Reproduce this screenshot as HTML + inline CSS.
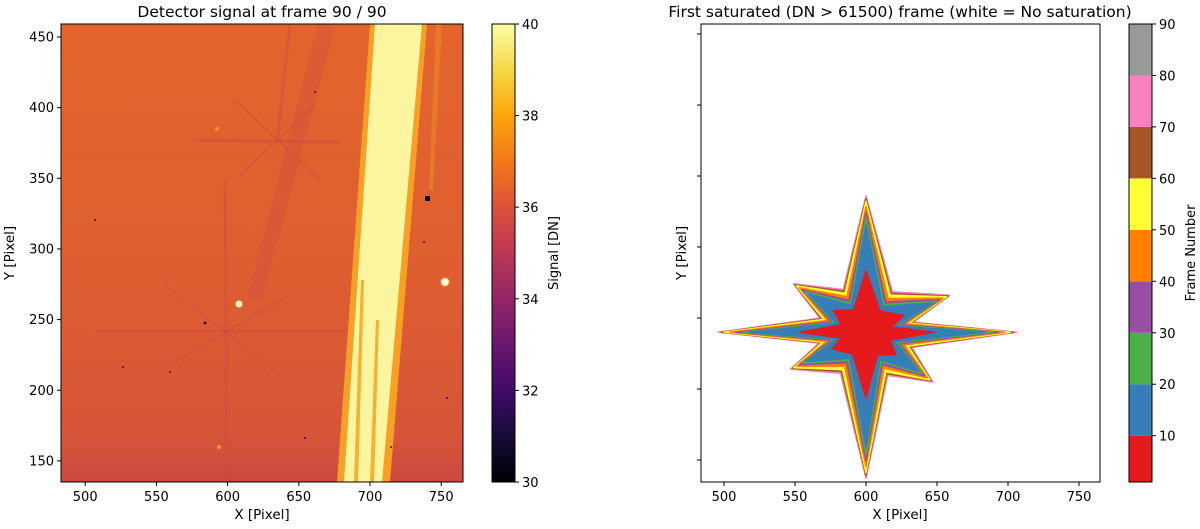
<!DOCTYPE html>
<html><head><meta charset="utf-8"><style>
html,body{margin:0;padding:0;background:#fff;}
svg{display:block;font-family:"DejaVu Sans","Liberation Sans",sans-serif;}
</style></head><body>
<svg id="fig" width="1200" height="529" viewBox="0 0 1200 529">
<defs>
<linearGradient id="inferno" x1="0" y1="1" x2="0" y2="0">
<stop offset="0" stop-color="#000004"/><stop offset="0.1" stop-color="#160b39"/><stop offset="0.2" stop-color="#420a68"/><stop offset="0.3" stop-color="#6a176e"/><stop offset="0.4" stop-color="#932667"/><stop offset="0.5" stop-color="#bc3754"/><stop offset="0.6" stop-color="#dd513a"/><stop offset="0.7" stop-color="#f37819"/><stop offset="0.8" stop-color="#fca50a"/><stop offset="0.9" stop-color="#f6d746"/><stop offset="1" stop-color="#fcffa4"/>
</linearGradient>
<linearGradient id="bgfade" x1="0" y1="0" x2="0" y2="1">
<stop offset="0" stop-color="#e3652c"/><stop offset="0.55" stop-color="#de5e31"/><stop offset="0.9" stop-color="#d75538"/><stop offset="1" stop-color="#c9493f"/>
</linearGradient>
<clipPath id="clipL"><rect x="61" y="24" width="402" height="458"/></clipPath>
<clipPath id="clipR"><rect x="701" y="24" width="399" height="458"/></clipPath>
</defs>

<text x="262" y="17" text-anchor="middle" font-size="15.5">Detector signal at frame 90 / 90</text>
<g clip-path="url(#clipL)">
<rect x="61" y="24" width="402" height="458" fill="url(#bgfade)"/>
<g stroke="#cc4a45" stroke-opacity="0.45" fill="none">
<line x1="193" y1="140" x2="340" y2="142" stroke-width="3"/>
<line x1="277" y1="143" x2="290" y2="24" stroke-width="3"/>
<line x1="235" y1="100" x2="320" y2="180" stroke-width="2"/>
<line x1="240" y1="175" x2="315" y2="105" stroke-width="2"/>
</g>
<polygon points="318,24 336,24 262,300 247,300" fill="#cc4a45" fill-opacity="0.3"/>
<g stroke="#cc4a45" stroke-opacity="0.45" fill="none">
<line x1="95" y1="331" x2="355" y2="331" stroke-width="3"/>
<line x1="225" y1="180" x2="227" y2="482" stroke-width="2.5"/>
<line x1="165" y1="285" x2="280" y2="375" stroke-width="2"/>
<line x1="160" y1="370" x2="290" y2="295" stroke-width="2"/>
</g>
<polygon points="370,24 427,24 390,482 337,482" fill="#f6a025"/>
<polygon points="375,24 422,24 382,482 344,482" fill="#fbf5a0"/>
<polygon points="361,280 364,280 358,482 354,482" fill="#f7b030"/>
<polygon points="376,320 379,320 374,482 370,482" fill="#f7b030"/>
<polygon points="436,24 442,24 433,190 429,190" fill="#ee8526" fill-opacity="0.6"/>
<circle cx="239" cy="304" r="3.5" fill="#fcffc0"/>
<circle cx="445" cy="282" r="4" fill="#fffbe0" stroke="#f8c050"/>
<rect x="425" y="196" width="5" height="5" fill="#000"/>
<circle cx="219" cy="447" r="2" fill="#f39a30"/>
<circle cx="217" cy="129" r="2" fill="#f0902c"/>
<g fill="#3a1060">
<circle cx="205" cy="323" r="1.5"/><circle cx="95" cy="220" r="1"/><circle cx="170" cy="372" r="1"/><circle cx="123" cy="367" r="1"/><circle cx="424" cy="242" r="1"/><circle cx="315" cy="92" r="1"/><circle cx="447" cy="398" r="1"/><circle cx="305" cy="438" r="1"/><circle cx="391" cy="447" r="1"/>
</g>
</g>
<rect x="61" y="24" width="402" height="458" fill="none" stroke="#000" stroke-width="1"/>
<g id="axL"></g>
<text x="262" y="519" text-anchor="middle" font-size="13.5">X [Pixel]</text>
<text transform="translate(14,253) rotate(-90)" text-anchor="middle" font-size="13.5">Y [Pixel]</text>
<rect x="492" y="24" width="23" height="458" fill="url(#inferno)" stroke="#000" stroke-width="1"/>
<g id="cbL"></g>
<text transform="translate(558,253) rotate(-90)" text-anchor="middle" font-size="13">Signal [DN]</text>

<text x="900" y="17" text-anchor="middle" font-size="15.5">First saturated (DN &gt; 61500) frame (white = No saturation)</text>
<g id="starG" clip-path="url(#clipR)"></g>
<rect x="701" y="24" width="399" height="458" fill="none" stroke="#000" stroke-width="1"/>
<g id="axR"></g>
<text x="900" y="519" text-anchor="middle" font-size="13.5">X [Pixel]</text>
<text transform="translate(686,253) rotate(-90)" text-anchor="middle" font-size="13.5">Y [Pixel]</text>
<g id="cbR"></g>
<text transform="translate(1195,253) rotate(-90)" text-anchor="middle" font-size="13">Frame Number</text>
</svg>
<script>
const xTicks = [500, 550, 600, 650, 700, 750];
const yTicks = [150, 200, 250, 300, 350, 400, 450];
const signalTicks = [30, 32, 34, 36, 38, 40];
const frameTicks = [10, 20, 30, 40, 50, 60, 70, 80, 90];
const frameBins = [1, 10, 20, 30, 40, 50, 60, 70, 80, 90];
const frameColors = ['#e41a1c','#377eb8','#4daf4a','#984ea3','#ff7f00','#ffff33','#a65628','#f781bf','#999999'];
const layerFrames = [75, 65, 55, 45, 35, 25, 15, 5];
const layerTip = [1.0, 0.98, 0.96, 0.92, 0.88, 0.84, 0.79, 0.45];
const layerValley = [1.42, 1.36, 1.3, 1.18, 1.06, 0.97, 0.9, 0.75];
const starCenter = [600, 240];
const armTipsX = [106, 59, 0, -51, -104, -53, 0, 47];
const armTipsY = [0, 26, 96, 34, 0, -26, -103, -35];
const valleyR = 24;

const NS = 'http://www.w3.org/2000/svg';
function mk(tag, attrs, parent){const e=document.createElementNS(NS,tag);for(const k in attrs)e.setAttribute(k,attrs[k]);parent.appendChild(e);return e;}
const xL = v => 61 + (v - 483) * 1.424;
const xR = v => 701 + (v - 483.8) * 1.42;
const yL = v => 37 + (450 - v) * 1.413;
const yR = v => 460 - (v - 150) * 1.42;
const ySig = v => 482 - (v - 30) * 45.8;
const yFrm = v => 482 - (v - 1) * (458 / 89);

function axes(g, xf, yf, showY){
  xTicks.forEach(t=>{
    const x=xf(t);
    const l=mk('line',{x1:x,x2:x,y1:482,y2:486,stroke:'#000'},g);
    
    
    const tx=mk('text',{x:x,y:501,'text-anchor':'middle','font-size':13},g);
    tx.textContent=t;
    
    
  });
  const x0 = showY?61:701;
  yTicks.forEach(t=>{
    const y=yf(t);
    const l=mk('line',{x1:x0-4,x2:x0,y1:y,y2:y,stroke:'#000'},g);
    
    
    if(showY){
      const tx=mk('text',{x:x0-7,y:y+4.5,'text-anchor':'end','font-size':13},g);
      tx.textContent=t;
      
      
    }
  });
}
axes(document.getElementById('axL'), xL, yL, true);
axes(document.getElementById('axR'), xR, yR, false);

const cbL=document.getElementById('cbL');
signalTicks.forEach(t=>{
  const y=ySig(t);
  const l=mk('line',{x1:515,x2:519,y1:y,y2:y,stroke:'#000'},cbL);
  
  
  const tx=mk('text',{x:522,y:y+5,'font-size':13},cbL);
  tx.textContent=t;
  
  
});

const cbR=document.getElementById('cbR');
for(let i=0;i<frameColors.length;i++){
  const y1=yFrm(frameBins[i+1]), y0=yFrm(frameBins[i]);
  const r=mk('rect',{x:1129,y:y1,width:23,height:y0-y1,fill:frameColors[i]},cbR);
  
  
}
mk('rect',{x:1129,y:24,width:23,height:458,fill:'none',stroke:'#000'},cbR);
frameTicks.forEach(t=>{
  const y=yFrm(t);
  const l=mk('line',{x1:1152,x2:1156,y1:y,y2:y,stroke:'#000'},cbR);
  
  
  const tx=mk('text',{x:1159,y:y+5,'font-size':13},cbR);
  tx.textContent=t;
  
  
});

const starG=document.getElementById('starG');
function colorFor(f){for(let i=0;i<frameColors.length;i++){if(f<frameBins[i+1])return frameColors[i];}return frameColors[frameColors.length-1];}
layerFrames.forEach((f,li)=>{
  const pts=[];
  const n=armTipsX.length;
  for(let i=0;i<n;i++){
    const tx=starCenter[0]+armTipsX[i]*layerTip[li], ty=starCenter[1]+armTipsY[i]*layerTip[li];
    pts.push(xR(tx).toFixed(1)+','+yR(ty).toFixed(1));
    const a1=Math.atan2(armTipsY[i],armTipsX[i]);
    const j=(i+1)%n;
    let a2=Math.atan2(armTipsY[j],armTipsX[j]);
    if(a2<a1)a2+=2*Math.PI;
    const am=(a1+a2)/2, r=valleyR*layerValley[li];
    pts.push(xR(starCenter[0]+r*Math.cos(am)).toFixed(1)+','+yR(starCenter[1]+r*Math.sin(am)).toFixed(1));
  }
  const p=mk('polygon',{points:pts.join(' '),fill:colorFor(f),stroke:colorFor(f),'stroke-width':1.5,'stroke-linejoin':'round'},starG);
  
  
});
const core=mk('circle',{cx:xR(starCenter[0]),cy:yR(starCenter[1]),r:17,fill:frameColors[0]},starG);


</script>
</body></html>
